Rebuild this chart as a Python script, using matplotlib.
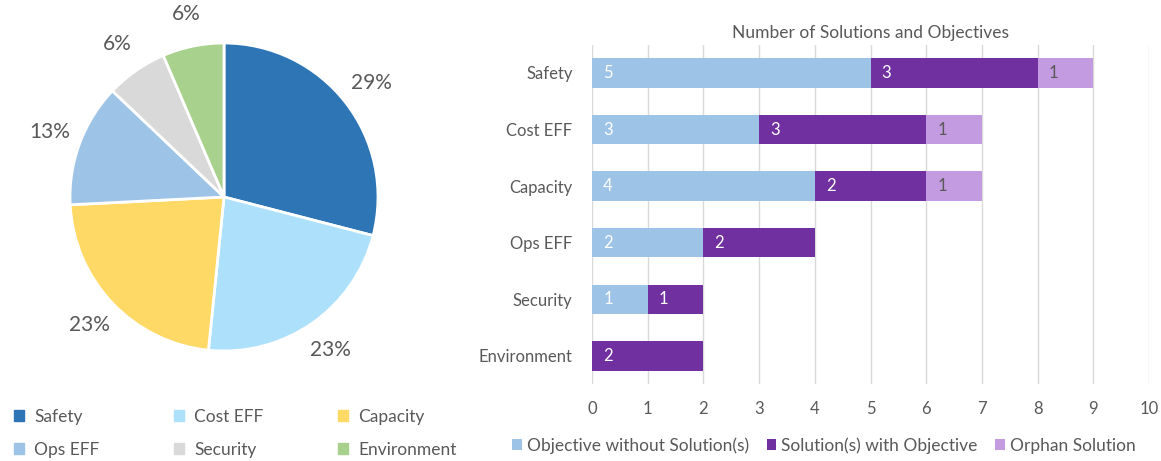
import matplotlib.pyplot as plt
from matplotlib.patches import Patch

plt.rcParams['font.family'] = ['Lato', 'DejaVu Sans']

categories = ['Safety', 'Cost EFF', 'Capacity', 'Ops EFF', 'Security', 'Environment']
no_solution = [5, 3, 4, 2, 1, 0]
with_objective = [3, 3, 2, 2, 1, 2]
orphan = [1, 1, 1, 0, 0, 0]
totals = [a + b + c for a, b, c in zip(no_solution, with_objective, orphan)]

pie_colors = ['#2E75B6', '#ADE1FB', '#FFD966', '#9DC3E6', '#D9D9D9', '#A9D18E']
bar_colors = ['#9DC3E6', '#7030A0', '#C39BE0']
series_names = ['Objective without Solution(s)', 'Solution(s) with Objective', 'Orphan Solution']
text_col = '#595959'

fig = plt.figure(figsize=(11.61, 4.61), dpi=100)

# pie
axp = fig.add_axes([(224 - 154) / 1161, (461 - 197 - 154) / 461, 308 / 1161, 308 / 461])
wedges, _, autotexts = axp.pie(totals, colors=pie_colors, startangle=90, counterclock=False,
                               autopct='%1.0f%%', pctdistance=1.21,
                               wedgeprops=dict(edgecolor='white', linewidth=2),
                               textprops=dict(color=text_col, fontsize=15))
axp.set_xlim(-1, 1)
axp.set_ylim(-1, 1)
axp.set_aspect('equal')

# legend filled row by row, like the original
order = [0, 3, 1, 4, 2, 5]
fig.legend([Patch(color=pie_colors[i]) for i in order], [categories[i] for i in order], ncol=3,
           loc='upper left', bbox_to_anchor=(-0.001, 0.147), frameon=False,
           fontsize=12.5, labelcolor=text_col, handlelength=0.55, handleheight=0.55,
           handletextpad=0.6, columnspacing=4.3, labelspacing=0.97)

# stacked bars
axb = fig.add_axes([592 / 1161, 0.1664, 557 / 1161, 0.7367])
y = list(range(len(categories)))
left = [0] * len(categories)
for vals, col, name in zip([no_solution, with_objective, orphan], bar_colors, series_names):
    bars = axb.barh(y, vals, left=left, height=0.52, color=col, label=name, zorder=3)
    lab_col = text_col if col == bar_colors[2] else 'white'
    for rect, v in zip(bars, vals):
        if v > 0:
            axb.annotate(str(v), (rect.get_x(), rect.get_y() + rect.get_height() / 2),
                         xytext=(8, 0), textcoords='offset points', va='center',
                         ha='left', color=lab_col, fontsize=12)
    left = [l + v for l, v in zip(left, vals)]

axb.set_xlim(0, 10)
axb.set_ylim(5.5, -0.5)
axb.set_xticks(range(0, 11))
axb.set_yticks(y)
axb.set_yticklabels(categories)
axb.tick_params(length=0, labelsize=12, labelcolor=text_col, pad=14)
axb.tick_params(axis='x', pad=12)
axb.grid(axis='x', color='#D9D9D9', linewidth=1, zorder=0)
for s in axb.spines.values():
    s.set_visible(False)
axb.set_title('Number of Solutions and Objectives', fontsize=12.5, color=text_col, pad=5)
axb.legend(loc='upper center', bbox_to_anchor=(0.4165, -0.11), ncol=3, frameon=False,
           fontsize=12.5, labelcolor=text_col, handlelength=0.55, handleheight=0.55,
           handletextpad=0.3, columnspacing=1.0)

fig.savefig('out.png', dpi=100)
